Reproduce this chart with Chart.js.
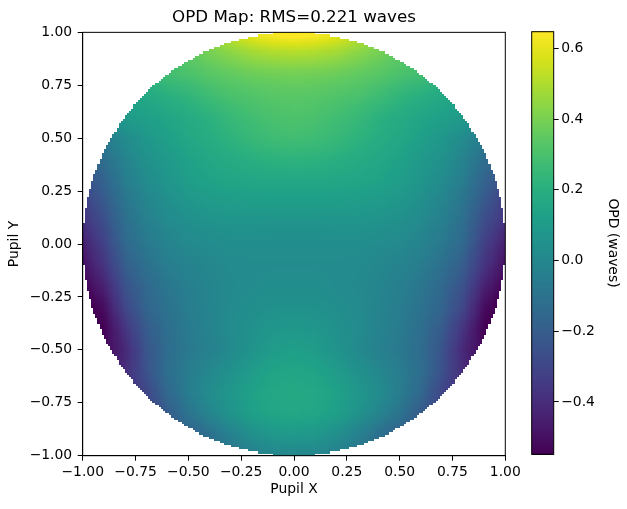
<!DOCTYPE html>
<html>
<head>
<meta charset="utf-8">
<script src="https://cdn.jsdelivr.net/npm/chart.js@4.4.1/dist/chart.umd.min.js"></script>
<style>
  html, body { margin: 0; padding: 0; background: #fff; }
  #wrap { position: relative; width: 627px; height: 509px; overflow: hidden; }
  #mainBox { position: absolute; left: 0; top: 0; width: 527px; height: 509px; }
  #barBox { position: absolute; left: 500px; top: 0; width: 127px; height: 509px; }
</style>
</head>
<body>
<div id="wrap">
  <div id="mainBox"><canvas id="opdChart"></canvas></div>
  <div id="barBox"><canvas id="barChart"></canvas></div>
</div>
<script>
// pupil sample grid (step 0.1)
const pupilX = [-1.0, -0.9, -0.8, -0.7, -0.6, -0.5, -0.4, -0.3, -0.2, -0.1, 0.0, 0.1, 0.2, 0.3, 0.4, 0.5, 0.6, 0.7, 0.8, 0.9, 1.0];
const pupilY = [1.0, 0.9, 0.8, 0.7, 0.6, 0.5, 0.4, 0.3, 0.2, 0.1, 0.0, -0.1, -0.2, -0.3, -0.4, -0.5, -0.6, -0.7, -0.8, -0.9, -1.0];

// OPD in waves, one row per pupilY value (null = well outside the pupil)
const opdGrid = [
  [null, null, null, null, null, 0.42, 0.48, 0.55, 0.62, 0.66, 0.68, 0.66, 0.62, 0.55, 0.48, 0.42, null, null, null, null, null],
  [null, null, null, 0.26, 0.30, 0.35, 0.39, 0.43, 0.47, 0.49, 0.50, 0.49, 0.47, 0.43, 0.39, 0.35, 0.30, 0.26, null, null, null],
  [null, null, 0.17, 0.23, 0.28, 0.30, 0.33, 0.35, 0.37, 0.38, 0.385, 0.38, 0.37, 0.35, 0.33, 0.30, 0.28, 0.23, 0.17, null, null],
  [null, 0.09, 0.13, 0.17, 0.20, 0.23, 0.27, 0.30, 0.315, 0.33, 0.335, 0.33, 0.315, 0.30, 0.27, 0.23, 0.20, 0.17, 0.13, 0.09, null],
  [null, 0.03, 0.10, 0.12, 0.15, 0.18, 0.21, 0.25, 0.28, 0.30, 0.31, 0.30, 0.28, 0.25, 0.21, 0.18, 0.15, 0.12, 0.10, 0.03, null],
  [-0.14, -0.06, 0.02, 0.08, 0.12, 0.16, 0.19, 0.22, 0.25, 0.27, 0.28, 0.27, 0.25, 0.22, 0.19, 0.16, 0.12, 0.08, 0.02, -0.06, -0.14],
  [-0.21, -0.12, -0.02, 0.05, 0.09, 0.13, 0.16, 0.18, 0.20, 0.215, 0.22, 0.215, 0.20, 0.18, 0.16, 0.13, 0.09, 0.05, -0.02, -0.12, -0.21],
  [-0.27, -0.17, -0.05, 0.02, 0.07, 0.11, 0.135, 0.15, 0.155, 0.16, 0.16, 0.16, 0.155, 0.15, 0.135, 0.11, 0.07, 0.02, -0.05, -0.17, -0.27],
  [-0.33, -0.22, -0.09, -0.01, 0.04, 0.075, 0.095, 0.105, 0.11, 0.11, 0.11, 0.11, 0.11, 0.105, 0.095, 0.075, 0.04, -0.01, -0.09, -0.22, -0.33],
  [-0.38, -0.27, -0.12, -0.04, 0.01, 0.04, 0.055, 0.065, 0.065, 0.06, 0.06, 0.06, 0.065, 0.065, 0.055, 0.04, 0.01, -0.04, -0.12, -0.27, -0.38],
  [-0.45, -0.32, -0.15, -0.07, -0.02, 0.01, 0.02, 0.03, 0.03, 0.03, 0.03, 0.03, 0.03, 0.03, 0.02, 0.01, -0.02, -0.07, -0.15, -0.32, -0.45],
  [-0.50, -0.37, -0.20, -0.11, -0.05, -0.02, 0.0, 0.015, 0.02, 0.02, 0.02, 0.02, 0.02, 0.015, 0.0, -0.02, -0.05, -0.11, -0.20, -0.37, -0.50],
  [-0.55, -0.44, -0.25, -0.15, -0.08, -0.04, -0.01, 0.01, 0.02, 0.03, 0.03, 0.03, 0.02, 0.01, -0.01, -0.04, -0.08, -0.15, -0.25, -0.44, -0.55],
  [-0.60, -0.51, -0.30, -0.17, -0.10, -0.05, -0.015, 0.015, 0.035, 0.05, 0.05, 0.05, 0.035, 0.015, -0.015, -0.05, -0.10, -0.17, -0.30, -0.51, -0.60],
  [-0.60, -0.55, -0.37, -0.21, -0.12, -0.06, -0.02, 0.02, 0.05, 0.075, 0.08, 0.075, 0.05, 0.02, -0.02, -0.06, -0.12, -0.21, -0.37, -0.55, -0.60],
  [-0.58, -0.53, -0.42, -0.24, -0.13, -0.07, -0.03, 0.01, 0.06, 0.10, 0.12, 0.10, 0.06, 0.01, -0.03, -0.07, -0.13, -0.24, -0.42, -0.53, -0.58],
  [null, -0.48, -0.40, -0.25, -0.12, -0.05, 0.0, 0.05, 0.10, 0.14, 0.15, 0.14, 0.10, 0.05, 0.0, -0.05, -0.12, -0.25, -0.40, -0.48, null],
  [null, -0.44, -0.40, -0.30, -0.15, -0.05, 0.03, 0.08, 0.13, 0.16, 0.17, 0.16, 0.13, 0.08, 0.03, -0.05, -0.15, -0.30, -0.40, -0.44, null],
  [null, null, -0.38, -0.32, -0.21, -0.09, -0.01, 0.06, 0.12, 0.15, 0.16, 0.15, 0.12, 0.06, -0.01, -0.09, -0.21, -0.32, -0.38, null, null],
  [null, null, null, -0.32, -0.26, -0.19, -0.11, -0.03, 0.04, 0.08, 0.09, 0.08, 0.04, -0.03, -0.11, -0.19, -0.26, -0.32, null, null, null],
  [null, null, null, null, null, -0.22, -0.15, -0.09, -0.04, -0.01, 0.0, -0.01, -0.04, -0.09, -0.15, -0.22, null, null, null, null, null]
];

const axisTicks = [-1.0, -0.75, -0.5, -0.25, 0.0, 0.25, 0.5, 0.75, 1.0];
const barTicks = [-0.4, -0.2, 0.0, 0.2, 0.4, 0.6];
const opdMin = -0.548;
const opdMax = 0.647;

const titleText = 'OPD Map: RMS=0.221 waves';

/* ================= HELPERS ================= */
const FONT = 'DejaVu Sans';
const imageCells = 200;   // pixels of the pupil image across the axis

const viridisStops = ['#440154', '#48186a', '#472d7b', '#424086', '#3b528b', '#33638d', '#2c728e', '#26828e',
  '#21918c', '#1fa088', '#28ae80', '#3fbc73', '#5ec962', '#84d44b', '#addc30', '#d8e219', '#fde725'];
const viridisRgb = viridisStops.map(h => [1, 3, 5].map(k => parseInt(h.substr(k, 2), 16)));

function viridis(t) {
    t = Math.max(0, Math.min(1, t));
    const f = t * (viridisRgb.length - 1);
    const i = Math.min(viridisRgb.length - 2, Math.floor(f));
    const u = f - i;
    const a = viridisRgb[i], b = viridisRgb[i + 1];
    return `rgb(${Math.round(a[0] + (b[0] - a[0]) * u)},${Math.round(a[1] + (b[1] - a[1]) * u)},${Math.round(a[2] + (b[2] - a[2]) * u)})`;
}

const colorFor = (v) => viridis((v - opdMin) / (opdMax - opdMin));

const fmt = (digits) => (v) => (v < -1e-9 ? '\u2212' : '') + Math.abs(v).toFixed(digits);

// value at a pupil point from the four surrounding grid samples
function sampleOpd(px, py) {
    const fx = (px - pupilX[0]) / (pupilX[1] - pupilX[0]);
    const fy = (py - pupilY[0]) / (pupilY[1] - pupilY[0]);
    const i0 = Math.max(0, Math.min(pupilX.length - 2, Math.floor(fx)));
    const j0 = Math.max(0, Math.min(pupilY.length - 2, Math.floor(fy)));
    const tx = fx - i0, ty = fy - j0;
    let sum = 0, wsum = 0;
    [[0, 0, (1 - tx) * (1 - ty)], [1, 0, tx * (1 - ty)], [0, 1, (1 - tx) * ty], [1, 1, tx * ty]].forEach(([di, dj, w]) => {
        const v = opdGrid[j0 + dj][i0 + di];
        if (v !== null && w > 0) { sum += v * w; wsum += w; }
    });
    return wsum > 0 ? sum / wsum : null;
}

/* ================= PLUGINS ================= */
const pupilImage = {
    id: 'pupilImage',
    beforeDatasetsDraw(chart) {
        const { ctx, chartArea: a, scales: { x, y } } = chart;
        const step = 2 / imageCells;
        ctx.save();
        ctx.beginPath();
        ctx.rect(a.left, a.top, a.width, a.height);
        ctx.clip();
        for (let i = 0; i < imageCells; i++) {
            const cx = -1 + (i + 0.5) * step;
            const xa = Math.round(x.getPixelForValue(-1 + i * step));
            const xb = Math.round(x.getPixelForValue(-1 + (i + 1) * step));
            for (let j = 0; j < imageCells; j++) {
                const cy = 1 - (j + 0.5) * step;
                if (cx * cx + cy * cy > 1) continue;
                const v = sampleOpd(cx, cy);
                if (v === null) continue;
                const ya = Math.round(y.getPixelForValue(1 - j * step));
                const yb = Math.round(y.getPixelForValue(1 - (j + 1) * step));
                ctx.fillStyle = colorFor(v);
                ctx.fillRect(xa, ya, xb - xa, yb - ya);
            }
        }
        ctx.restore();
    },
    afterDraw(chart) {
        const { ctx, chartArea: a } = chart;
        ctx.save();
        ctx.strokeStyle = '#000';
        ctx.lineWidth = 1;
        ctx.strokeRect(a.left, a.top, a.width, a.height);
        ctx.restore();
    }
};

const colorStrip = {
    id: 'colorStrip',
    beforeDatasetsDraw(chart) {
        const { ctx, chartArea: a, scales: { y } } = chart;
        ctx.save();
        for (let p = Math.floor(a.top); p < Math.ceil(a.bottom); p++) {
            ctx.fillStyle = colorFor(y.getValueForPixel(p + 0.5));
            ctx.fillRect(a.left, p, a.width, 1);
        }
        ctx.restore();
    },
    afterDraw(chart) {
        const { ctx, chartArea: a } = chart;
        ctx.save();
        ctx.strokeStyle = '#000';
        ctx.lineWidth = 1;
        ctx.strokeRect(a.left, a.top, a.width, a.height);
        ctx.restore();
    }
};

/* ================= CHARTS ================= */
Chart.defaults.font.family = FONT;
Chart.defaults.font.size = 13.9;
Chart.defaults.color = '#000';

const tickGrid = { drawOnChartArea: false, drawTicks: true, tickLength: 5, color: '#000', lineWidth: 1 };

new Chart(document.getElementById('opdChart'), {
    type: 'scatter',
    data: { datasets: [{ data: [] }] },
    options: {
        responsive: true,
        maintainAspectRatio: false,
        animation: false,
        layout: { padding: { left: 0, right: 21.7, top: 0, bottom: 0 } },
        plugins: {
            legend: { display: false },
            tooltip: { enabled: false },
            title: {
                display: true,
                fullSize: false,
                text: titleText,
                color: '#000',
                font: { size: 16.7, weight: 'normal' },
                padding: { top: 7.4, bottom: 4.9 }
            }
        },
        scales: {
            x: {
                type: 'linear', min: -1, max: 1,
                afterBuildTicks: s => { s.ticks = axisTicks.map(v => ({ value: v })); },
                afterFit: s => { s.height = 53.3; },
                ticks: { callback: fmt(2), autoSkip: false, maxRotation: 0, padding: 3 },
                grid: tickGrid,
                border: { display: true, color: '#000' },
                title: { display: true, text: 'Pupil X', font: { size: 13.9 }, padding: { top: 0, bottom: 11.4 } }
            },
            y: {
                type: 'linear', min: -1, max: 1,
                afterBuildTicks: s => { s.ticks = axisTicks.map(v => ({ value: v })); },
                afterFit: s => { s.width = 82.7; },
                ticks: { callback: fmt(2), autoSkip: false, padding: 5.5 },
                grid: tickGrid,
                border: { display: true, color: '#000' },
                title: { display: true, text: 'Pupil Y', font: { size: 13.9 }, padding: { top: 5.6, bottom: 0 } }
            }
        }
    },
    plugins: [pupilImage]
});

new Chart(document.getElementById('barChart'), {
    type: 'scatter',
    data: { datasets: [{ data: [] }] },
    options: {
        responsive: true,
        maintainAspectRatio: false,
        animation: false,
        layout: { padding: { left: 31.7, right: 0, top: 31.7, bottom: 54.7 } },
        plugins: { legend: { display: false }, tooltip: { enabled: false } },
        scales: {
            x: { display: false, min: 0, max: 1 },
            y: {
                type: 'linear', position: 'right', min: opdMin, max: opdMax,
                afterBuildTicks: s => { s.ticks = barTicks.map(v => ({ value: v })); },
                afterFit: s => { s.width = 73.3; },
                ticks: { callback: fmt(1), autoSkip: false, padding: 2.5 },
                grid: tickGrid,
                border: { display: false },
                title: { display: true, text: 'OPD (waves)', font: { size: 13.9 }, padding: { top: 6.5, bottom: 0 } }
            }
        }
    },
    plugins: [colorStrip]
});
</script>
</body>
</html>
